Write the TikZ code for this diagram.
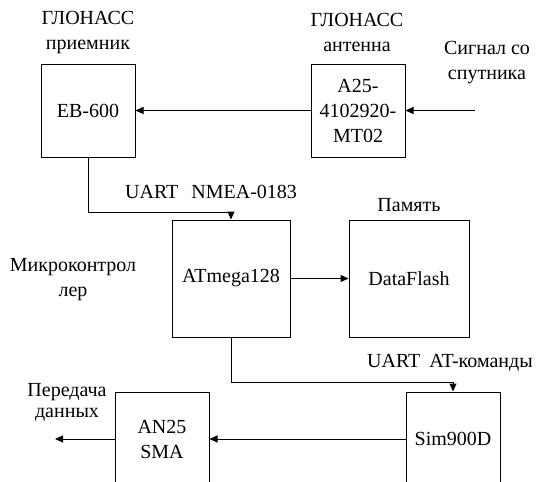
\documentclass[tikz,border=0pt]{standalone}
\usepackage{fontspec}
\setmainfont{Liberation Serif}
\usetikzlibrary{arrows.meta}
\begin{document}
\begin{tikzpicture}[x=1pt,y=-1pt,
  font=\rmfamily\fontsize{20}{25}\selectfont,
  blk/.style={draw, line width=1pt, inner sep=0pt, align=center},
  lbl/.style={align=center, inner sep=0pt},
  conn/.style={line width=1pt},
  arr/.style={conn, -{Triangle[length=8pt,width=7pt]}}]
\useasboundingbox (0,0) rectangle (539,482);
\clip (0,0) rectangle (539,482);
% blocks
\node[blk, minimum width=94, minimum height=93] (eb) at (88,110.5) {EB-600};
\node[blk, minimum width=94, minimum height=93] (ant) at (358,110.5) {A25-\\4102920-\\MT02};
\node[blk, minimum width=118, minimum height=117] (atm) at (231,278.5) {ATmega128};
\node[blk, minimum width=120, minimum height=117] (df) at (409,278.5) {DataFlash};
\node[blk, minimum width=94, minimum height=94] (an) at (162,439) {AN25\\SMA};
\node[blk, minimum width=94, minimum height=94] (sim) at (453,439) {Sim900D};
% labels
\node[lbl] (l1) at (88,32.5) {ГЛОНАСС\\приемник};
\node[lbl] (l2) at (357,32.5) {ГЛОНАСС\\антенна};
\node[lbl] (l3) at (487,62.5) {Сигнал со\\спутника};
\node[lbl, anchor=west] (l4) at (125,192) {UART\hspace{13pt}NMEA-0183};
\node[lbl] (l5) at (409,205) {Память};
\node[lbl] (l6) at (73,280) {Микроконтрол\\лер};
\node[lbl, anchor=west] (l7) at (367,363) {UART\hspace{9pt}AT-команды};
\node[lbl, font=\rmfamily\fontsize{20}{21}\selectfont] (l8) at (67,402.5) {Передача\\данных};
% connectors
\coordinate (sig) at (475,110.5);
\coordinate (out) at (55,439);
\draw[arr] (sig) -- (ant.east);
\draw[arr] (ant.west) -- (eb.east);
\draw[arr] (eb.south) -- ++(0,55) -| (atm.north);
\draw[arr] (atm.east) -- (df.west);
\draw[arr] (atm.south) -- ++(0,45) -| (sim.north);
\draw[arr] (sim.west) -- (an.east);
\draw[arr] (an.west) -- (out);
\end{tikzpicture}
\end{document}
